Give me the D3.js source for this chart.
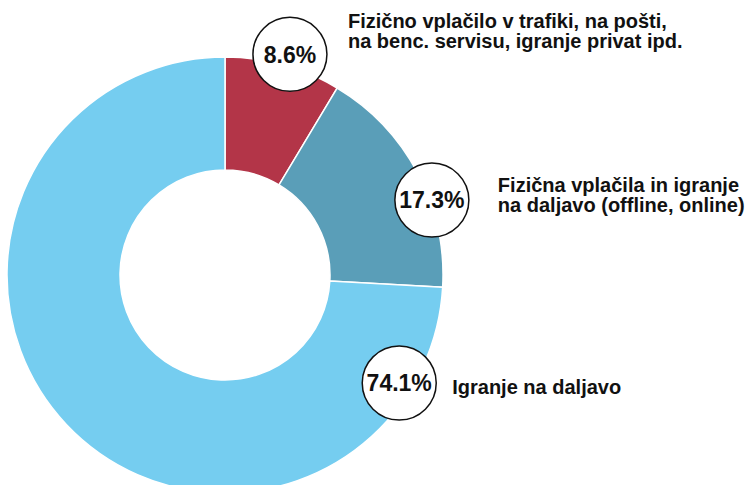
<!DOCTYPE html>
<html><head><meta charset="utf-8">
<script src="https://cdn.jsdelivr.net/npm/d3@7"></script>
<style>body{margin:0;background:#fff}svg{display:block}text{font-family:"Liberation Sans",Arial,sans-serif;font-weight:bold}</style>
</head><body>
<svg id="c" width="754" height="485"></svg>
<script>
const categories = [
  ["Fizično vplačilo v trafiki, na pošti,", "na benc. servisu, igranje privat ipd."],
  ["Fizična vplačila in igranje", "na daljavo (offline, online)"],
  ["Igranje na daljavo"]
];
const values = [8.6, 17.3, 74.1];
const valueLabels = ["8.6%", "17.3%", "74.1%"];
const colors = ["#B33548", "#5A9EB8", "#75CDF0"];

// label placement (polar angle in degrees from top, distance from center) and text offsets
const labelLayout = [
  {angle: 16.4, dist: 230, tx: 58, ty: -26},
  {angle: 70.1, dist: 220, tx: 66, ty: -8},
  {angle: 121.8, dist: 205, tx: 53, ty: 11}
];

const svg = d3.select("#c");
const cx = 225, cy = 275, R = 218, r0 = 105;
const g = svg.append("g").attr("transform", `translate(${cx},${cy})`);
const pie = d3.pie().sort(null).value(d => d);
const arc = d3.arc().innerRadius(r0).outerRadius(R);
const arcs = pie(values);
g.selectAll("path").data(arcs).join("path")
  .attr("d", arc).attr("fill", (d, i) => colors[i])
  .attr("stroke", "#fff").attr("stroke-width", 1.5);

arcs.forEach((a, i) => {
  const L = labelLayout[i];
  const th = L.angle * Math.PI / 180;
  const x = Math.sin(th) * L.dist, y = -Math.cos(th) * L.dist;
  g.append("circle").attr("cx", x).attr("cy", y).attr("r", 37)
    .attr("fill", "#fff").attr("stroke", "#111").attr("stroke-width", 1.5);
  g.append("text").attr("x", x).attr("y", y).attr("dy", "0.36em")
    .attr("text-anchor", "middle").attr("font-size", 23).attr("fill", "#111")
    .text(valueLabels[i]);
  const t = g.append("text").attr("font-size", 20).attr("fill", "#111");
  categories[i].forEach((line, j) => {
    t.append("tspan").attr("x", x + L.tx).attr("y", y + L.ty + j * 20).text(line);
  });
});
</script>
</body></html>
